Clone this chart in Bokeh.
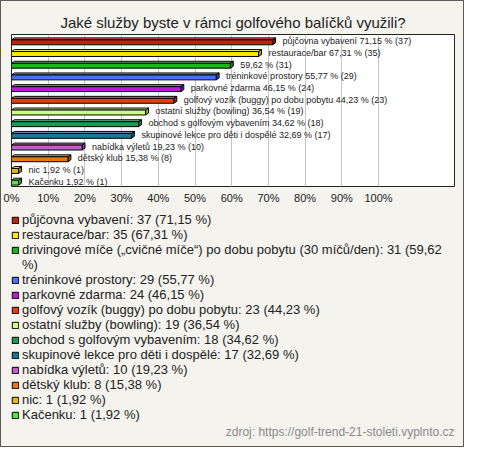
from bokeh.plotting import figure
from bokeh.layouts import column
from bokeh.models import Range1d, FixedTicker, Legend, LegendItem, Title, ColumnDataSource
from bokeh.core.properties import value
from bokeh.embed import file_html
from bokeh.resources import INLINE

# ---- data ----
names = ["půjčovna vybavení", "restaurace/bar",
         "drivingové míče („cvičné míče“) po dobu pobytu (30 míčů/den)",
         "tréninkové prostory", "parkovné zdarma",
         "golfový vozík (buggy) po dobu pobytu", "ostatní služby (bowling)",
         "obchod s golfovým vybavením", "skupinové lekce pro děti i dospělé",
         "nabídka výletů", "dětský klub", "nic", "Kačenku"]
bar_names = ["půjčovna vybavení", "restaurace/bar", "",
             "tréninkové prostory", "parkovné zdarma",
             "golfový vozík (buggy) po dobu pobytu", "ostatní služby (bowling)",
             "obchod s golfovým vybavením", "skupinové lekce pro děti i dospělé",
             "nabídka výletů", "dětský klub", "nic", "Kačenku"]
counts = [37, 35, 31, 29, 24, 23, 19, 18, 17, 10, 8, 1, 1]
pcts = [71.15, 67.31, 59.62, 55.77, 46.15, 44.23, 36.54, 34.62, 32.69, 19.23, 15.38, 1.92, 1.92]
colors = ["#c8200c", "#ffe800", "#18b818", "#4870f0", "#c018d8", "#e84008", "#ccff80",
          "#10a058", "#1a7890", "#c060c8", "#e87808", "#e8b808", "#50e838"]
ticks = [0, 10, 20, 30, 40, 50, 60, 70, 80, 90, 100]
tick_labels = ["0%", "10%", "20%", "30%", "40%", "50%", "60%", "70%", "80%", "90%", "100%"]
title = "Jaké služby byste v rámci golfového balíčků využili?"
source_note = "zdroj: https://golf-trend-21-stoleti.vyplnto.cz"

FONT = "Liberation Sans"
BG = "#f4f3ee"
TXT = "#222222"

def fmt(v):
    return f"{v:.2f}".replace(".", ",")

def shade(hexc, f):
    r, g, b = int(hexc[1:3], 16), int(hexc[3:5], 16), int(hexc[5:7], 16)
    if f >= 0:
        r, g, b = [int(c + (255 - c) * f) for c in (r, g, b)]
    else:
        r, g, b = [int(c * (1 + f)) for c in (r, g, b)]
    return "#%02x%02x%02x" % (r, g, b)

n = len(names)
XMAX = 120.7

# ---------------- bar chart ----------------
p = figure(width=462, height=205, output_backend="svg", toolbar_location=None,
           x_range=Range1d(0, XMAX), y_range=Range1d(n, 0),
           min_border_left=10, min_border_right=9, min_border_top=33, min_border_bottom=0)
p.background_fill_color = "white"
p.border_fill_color = BG
p.outline_line_color = TXT
p.outline_line_width = 1

p.title.text = title
p.title.align = "center"
p.title.text_font = FONT
p.title.text_font_size = "15px"
p.title.text_font_style = "normal"
p.title.text_color = TXT
p.title.standoff = 7

p.yaxis.visible = False
p.ygrid.visible = False
p.xaxis.ticker = FixedTicker(ticks=ticks)
p.xaxis.major_label_overrides = {t: l for t, l in zip(ticks, tick_labels)}
p.xaxis.major_tick_line_color = None
p.xaxis.major_tick_out = 0
p.xaxis.major_tick_in = 0
p.xaxis.minor_tick_line_color = None
p.xaxis.axis_line_color = None
p.xaxis.major_label_text_font = FONT
p.xaxis.major_label_text_font_size = "11px"
p.xaxis.major_label_text_color = TXT
p.xaxis.major_label_standoff = 5
p.xgrid.ticker = FixedTicker(ticks=ticks[1:])
p.xgrid.grid_line_color = "#c4c4c4"

dx = 0.8   # 3D depth, % units
dy = 0.17  # 3D depth, category units
y_top = [i + 0.46 for i in range(n)]
y_bot = [i + 0.88 for i in range(n)]

top_xs, top_ys, side_xs, side_ys = [], [], [], []
for i, v in enumerate(pcts):
    t, b = y_top[i], y_bot[i]
    top_xs.append([0, dx, v + dx, v])
    top_ys.append([t, t - dy, t - dy, t])
    side_xs.append([v, v + dx, v + dx, v])
    side_ys.append([t, t - dy, b - dy, b])

p.patches(top_xs, top_ys, fill_color=[shade(c, 0.35) for c in colors],
          line_color="black", line_width=1)
p.patches(side_xs, side_ys, fill_color=[shade(c, -0.3) for c in colors],
          line_color="black", line_width=1)
src = ColumnDataSource(dict(left=[0] * n, right=pcts, top=y_top, bottom=y_bot, color=colors))
p.quad(left="left", right="right", top="top", bottom="bottom", source=src,
       fill_color="color", line_color="black", line_width=1)

lbl = [(f"{bn} " if bn else "") + f"{fmt(v)} % ({c})" for bn, v, c in zip(bar_names, pcts, counts)]
p.text(x=[v + 2.7 for v in pcts], y=[i + 0.58 for i in range(n)], text=lbl,
       text_font=value(FONT), text_font_size="9px", text_baseline="middle",
       text_color=TXT)

# ---------------- legend panel ----------------
q = figure(width=462, height=240, output_backend="svg", toolbar_location=None,
           x_range=Range1d(-200, -100), y_range=Range1d(0, n),
           min_border_left=0, min_border_right=9, min_border_top=6, min_border_bottom=24)
q.axis.visible = False
q.grid.visible = False
q.outline_line_color = None
q.background_fill_color = BG
q.border_fill_color = BG
# legend swatches use the same bar source (outside this panel's visible range)
swatch = q.quad(left="left", right="right", top="top", bottom="bottom", source=src,
                fill_color="color", line_color="black", line_width=1)
blank = q.quad(left="left", right="right", top="top", bottom="bottom", source=src,
               fill_alpha=0, line_alpha=0)

items = []
for i, (nm, c, v) in enumerate(zip(names, counts, pcts)):
    s = f"{nm}: {c} ({fmt(v)} %)"
    if len(s) > 72:  # wrap long entry like the original
        k = s.rfind(" ")
        items.append(LegendItem(label=s[:k], renderers=[swatch], index=i))
        items.append(LegendItem(label=s[k + 1:], renderers=[blank], index=i))
    else:
        items.append(LegendItem(label=s, renderers=[swatch], index=i))

legend = Legend(items=items, location="top_left", orientation="vertical",
                glyph_width=8, glyph_height=8, label_standoff=3,
                label_text_font=FONT, label_text_font_size="13px",
                label_text_color=TXT, label_height=13,
                spacing=0, padding=0, margin=0,
                background_fill_alpha=0, border_line_alpha=0)
q.add_layout(legend, "center")

note = Title(text=source_note, align="right", text_font=FONT, text_font_size="12px",
             text_font_style="normal", text_color="#8a8a8a", standoff=0)
q.add_layout(note, "below")

layout = column(p, q, spacing=0, styles={"border": "1px solid #5a5a5a", "background-color": BG})

open("out.html", "w").write(file_html(layout, INLINE))
